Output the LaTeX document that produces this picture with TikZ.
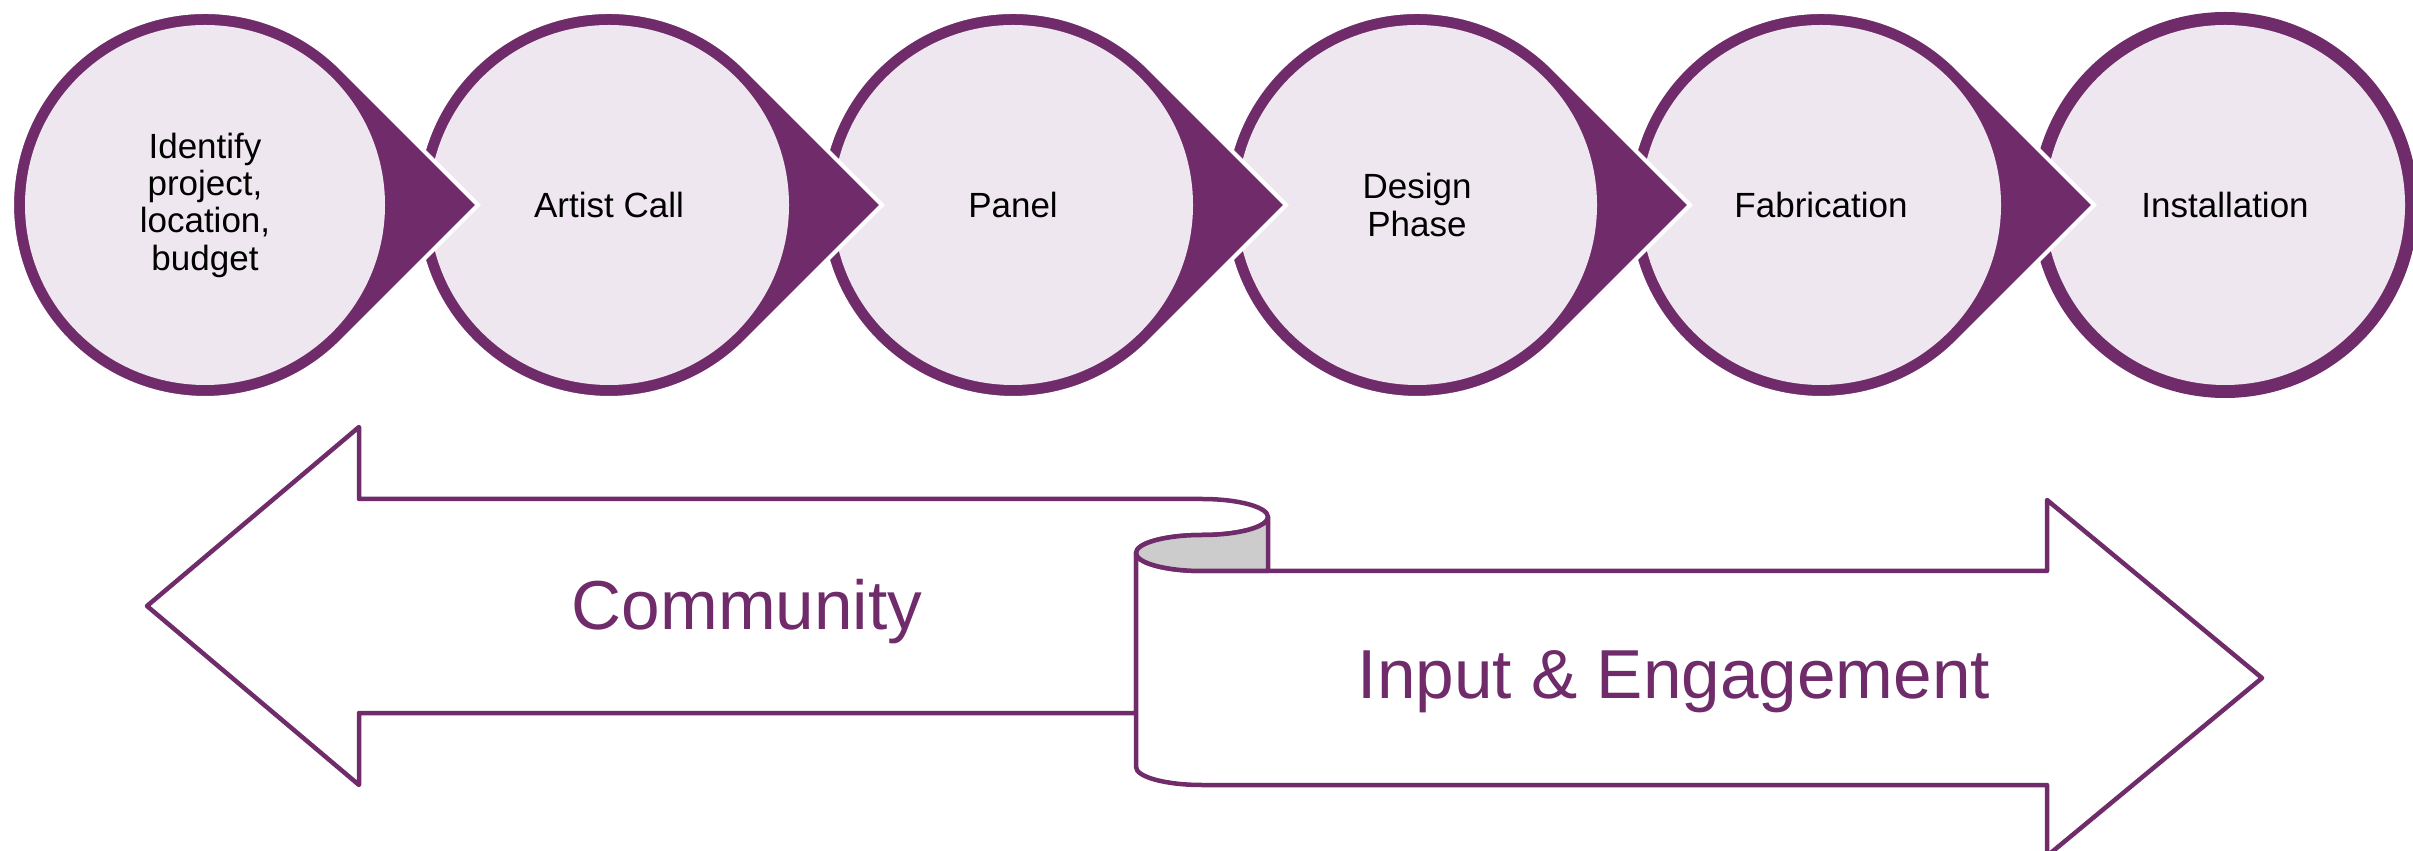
\documentclass[tikz,border=0pt]{standalone}
\usepackage{fontspec}
\setmainfont{Liberation Sans}
\definecolor{plum}{RGB}{111,43,106}
\definecolor{lilac}{RGB}{239,231,239}
\definecolor{foldgray}{RGB}{204,204,204}
\begin{document}
\begin{tikzpicture}[x=0.3pt,y=0.3pt,
  steplabel/.style={font=\fontsize{10.5pt}{11.2pt}\selectfont, align=center, text=black, inner sep=0pt},
  bigtext/.style={font=\fontsize{20.8pt}{24pt}\selectfont, text=plum, inner sep=0pt, anchor=base},
  drop/.style={fill=plum, draw=white, line width=1.2pt, line join=miter},
  inner/.style={fill=lilac},
  ribbon/.style={draw=plum, line width=1.35pt, fill=white, line join=round},
  fold/.style={draw=plum, line width=1.35pt, fill=foldgray, line join=round}]
\useasboundingbox (0,0) rectangle (2413,850);
\clip (0,0) rectangle (2413,850);
% last circle (no tip)
\fill[plum] (2225,645) circle[radius=193];
\fill[inner] (2225,645) circle[radius=180];
% circles with tips, drawn right to left
\foreach \cx in {1821,1417,1013,609,205}{
  \path[drop] (\cx+273,645) -- (\cx+136.5,781.5) arc[start angle=45, end angle=315, radius=193] -- cycle;
  \fill[inner] (\cx,645) circle[radius=180];
}
\node[steplabel] (s1) at (205,645) {Identify\\project,\\location,\\budget};
\node[steplabel] (s2) at (609,645) {Artist Call};
\node[steplabel] (s3) at (1013,645) {Panel};
\node[steplabel] (s4) at (1417,645) {Design\\Phase};
\node[steplabel] (s5) at (1821,645) {Fabrication};
\node[steplabel] (s6) at (2225,645) {Installation};
% left arrow
\path[ribbon] (1202,351) -- (359,351) -- (359,423) -- (147,244) -- (359,65) -- (359,137) -- (1136,137) -- (1136,297)
  arc[start angle=180, end angle=90, x radius=66, y radius=18]
  arc[start angle=-90, end angle=90, x radius=66, y radius=18] -- cycle;
% right arrow
\path[ribbon] (1136,297) -- (1136,83)
  arc[start angle=180, end angle=270, x radius=66, y radius=18]
  -- (2047,65) -- (2047,-6) -- (2262,172) -- (2047,350) -- (2047,279) -- (1202,279)
  arc[start angle=270, end angle=180, x radius=66, y radius=18] -- cycle;
% fold
\path[fold] (1136,297) arc[start angle=180, end angle=270, x radius=66, y radius=18]
  -- (1268,279) -- (1268,333)
  arc[start angle=0, end angle=-90, x radius=66, y radius=18]
  arc[start angle=90, end angle=180, x radius=66, y radius=18] -- cycle;
\node[bigtext] (community) at (747,220) {Community};
\node[bigtext] (engage) at (1674,152) {Input \& Engagement};
\end{tikzpicture}
\end{document}
